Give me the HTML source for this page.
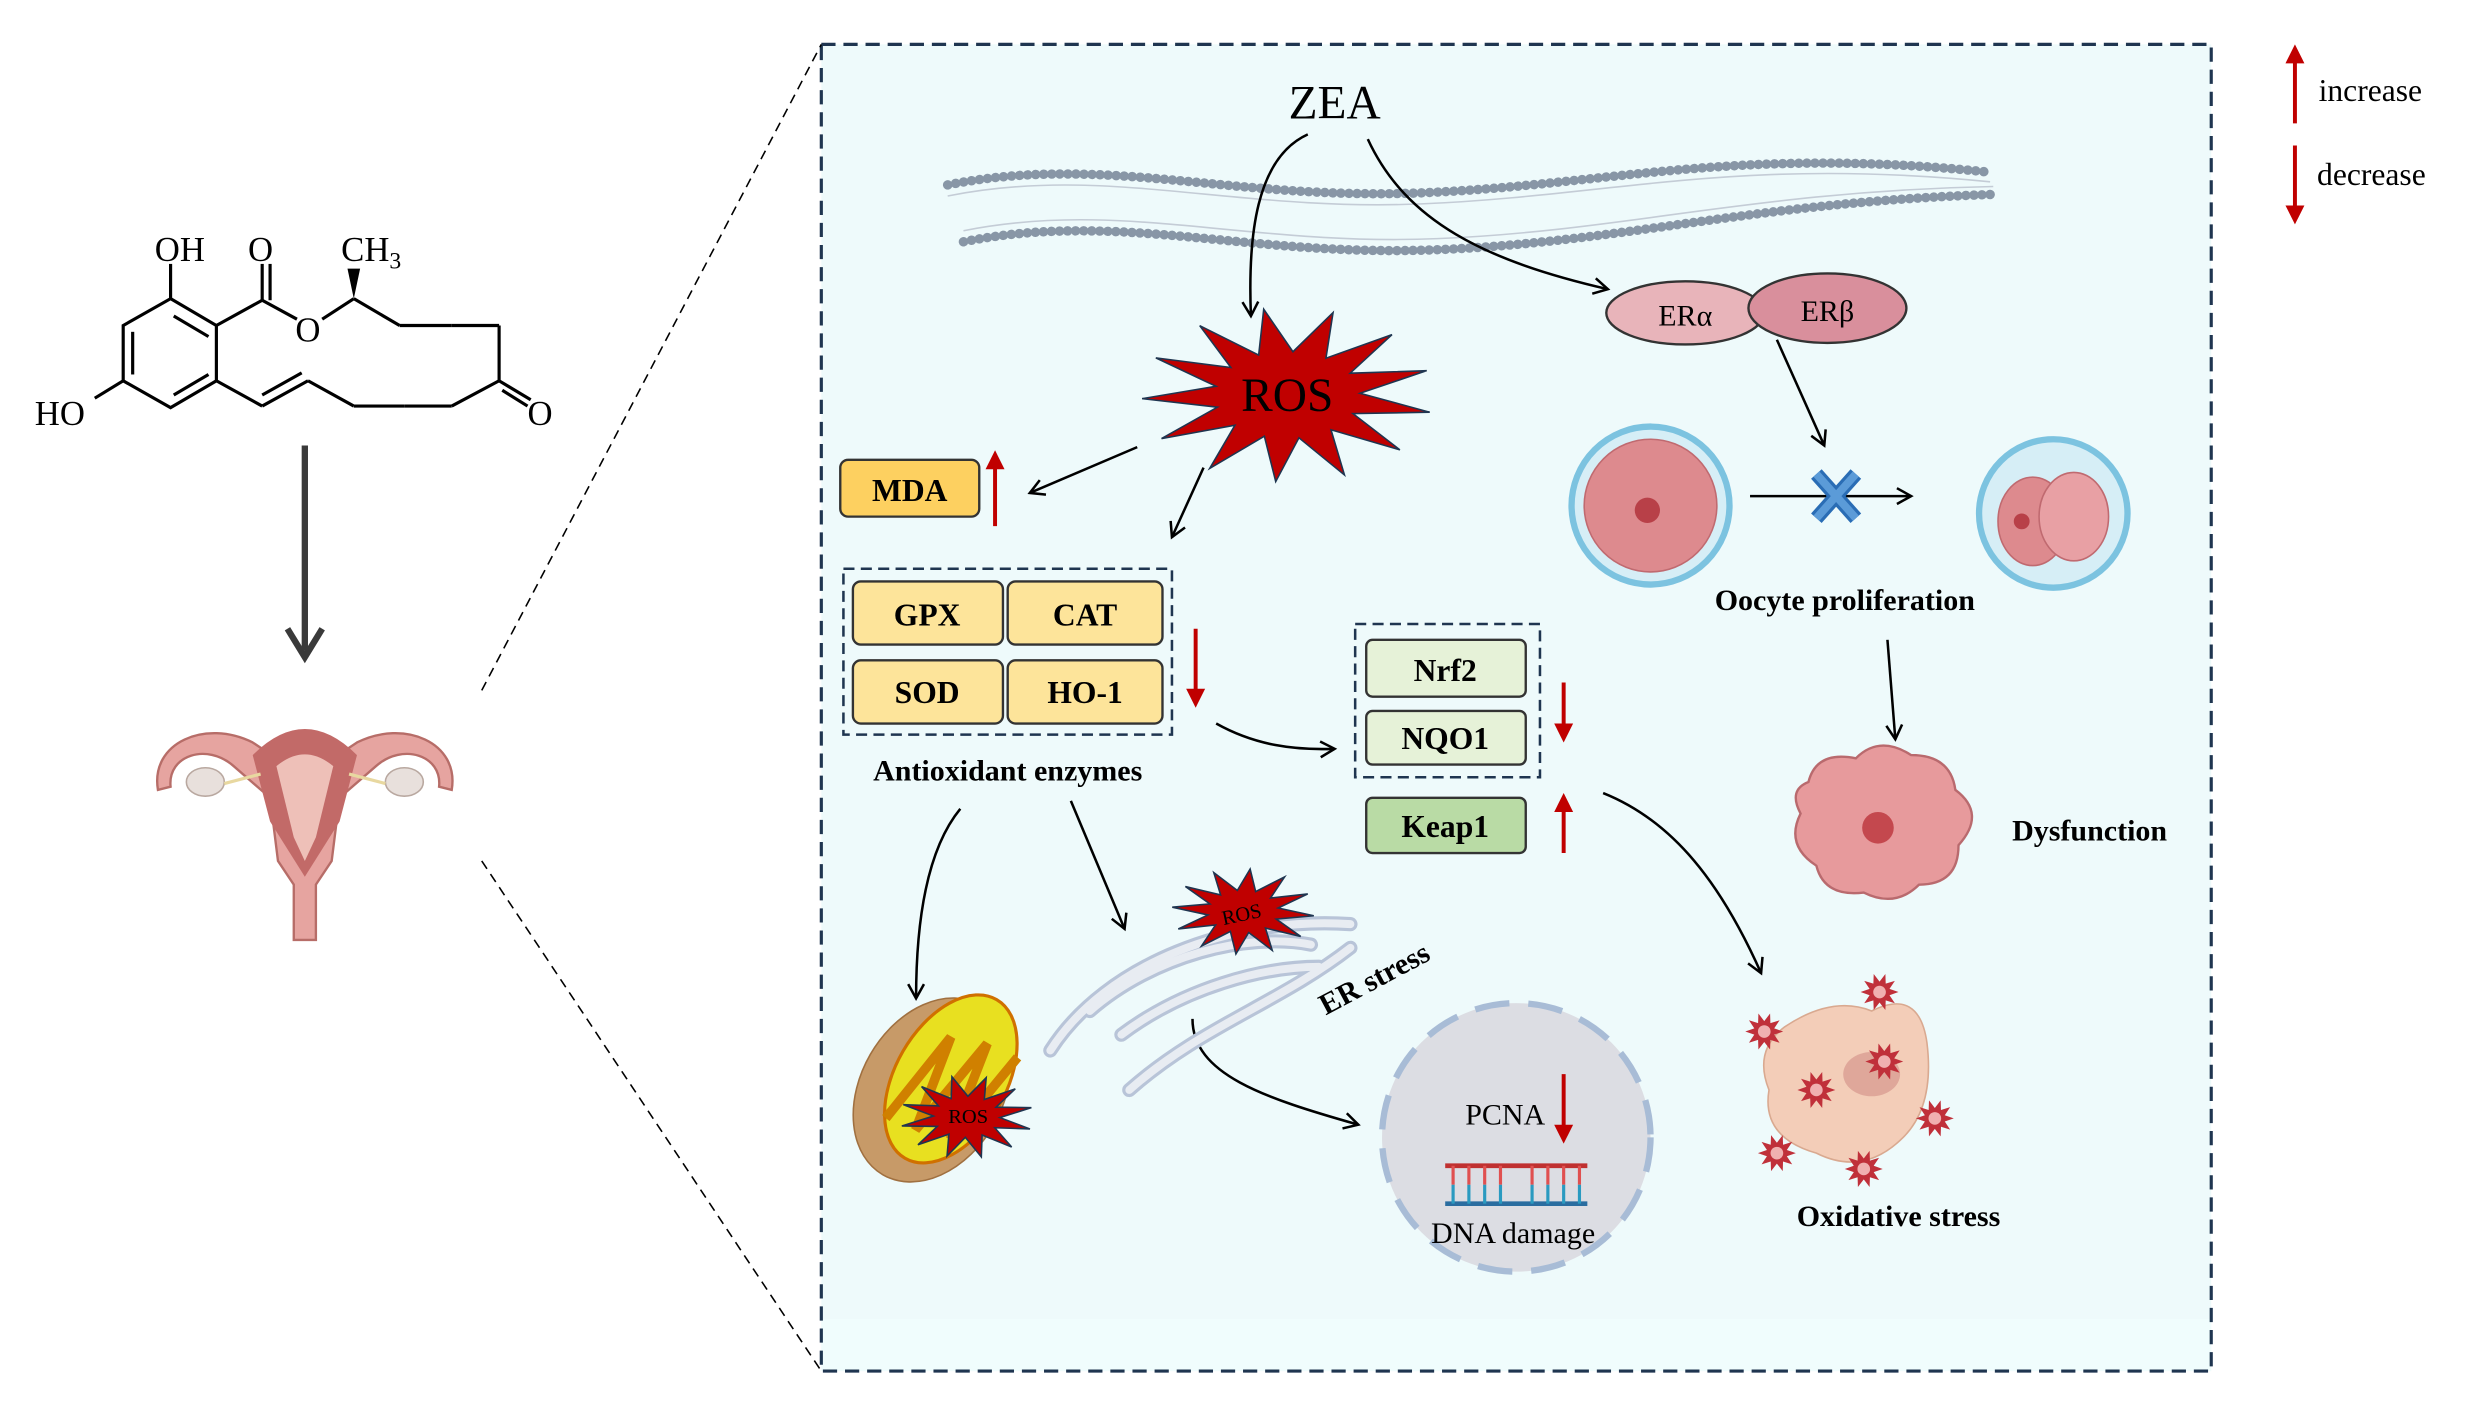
<!DOCTYPE html>
<html><head><meta charset="utf-8"><style>
html,body{margin:0;padding:0;background:#fff;}
svg{display:block;}
text{font-family:"Liberation Serif",serif;}
.b{font-weight:bold;}
</style></head><body>
<svg id="s" width="2475" height="1406" viewBox="0 0 1567 890" xmlns="http://www.w3.org/2000/svg">
<defs>
<marker id="ah" markerWidth="12" markerHeight="12" refX="10" refY="6" orient="auto" markerUnits="userSpaceOnUse">
<path d="M1,1 L10,6 L1,11" fill="none" stroke="#000" stroke-width="1.6"/></marker>
</defs>
<!-- frame -->
<rect x="520" y="28" width="880" height="840" fill="#eefafb"/>
<rect x="520" y="835" width="880" height="33" fill="#f0fdfd"/>
<rect x="520" y="28" width="880" height="840" fill="none" stroke="#1f3550" stroke-width="2" stroke-dasharray="9,5"/>
<line x1="305" y1="437" x2="520" y2="28" stroke="#000" stroke-width="1" stroke-dasharray="6,4"/>
<line x1="305" y1="545" x2="520" y2="868" stroke="#000" stroke-width="1" stroke-dasharray="6,4"/>
<!-- legend -->
<g fill="#c00000" stroke="#c00000">
<line x1="1453" y1="78" x2="1453" y2="38" stroke-width="2.5"/><polygon points="1447,40 1459,40 1453,28" stroke="none"/>
<line x1="1453" y1="92" x2="1453" y2="132" stroke-width="2.5"/><polygon points="1447,130 1459,130 1453,142" stroke="none"/>
<line x1="630" y1="333" x2="630" y2="295" stroke-width="2.5"/><polygon points="624,297 636,297 630,285" stroke="none"/>
<line x1="757" y1="398" x2="757" y2="438" stroke-width="2.5"/><polygon points="751,436 763,436 757,448" stroke="none"/>
<line x1="990" y1="432" x2="990" y2="460" stroke-width="2.5"/><polygon points="984,458 996,458 990,470" stroke="none"/>
<line x1="990" y1="540" x2="990" y2="512" stroke-width="2.5"/><polygon points="984,514 996,514 990,502" stroke="none"/>
</g>
<text x="1468" y="64" font-size="20">increase</text>
<text x="1467" y="117" font-size="20">decrease</text>
<!-- molecule -->
<g stroke="#000" stroke-width="2" fill="none">
<polygon points="108,189 137,206 137,241 108,258 78,241 78,206"/>
<line x1="132" y1="213" x2="110" y2="200"/><line x1="84" y1="210" x2="84" y2="237"/><line x1="110" y1="250" x2="132" y2="237"/>
<line x1="108" y1="189" x2="108" y2="167"/>
<line x1="78" y1="241" x2="60" y2="252"/>
<line x1="137" y1="206" x2="166" y2="190"/>
<line x1="166" y1="190" x2="166" y2="167"/><line x1="171" y1="190" x2="171" y2="167"/>
<line x1="166" y1="190" x2="188" y2="202"/>
<line x1="204" y1="202" x2="224" y2="189"/>
<line x1="137" y1="241" x2="166" y2="257"/>
<line x1="166" y1="257" x2="195" y2="241"/><line x1="166" y1="250" x2="191" y2="236"/>
<line x1="195" y1="241" x2="224" y2="257"/>
<line x1="224" y1="189" x2="253" y2="206"/><line x1="253" y1="206" x2="286" y2="206"/><line x1="286" y1="206" x2="316" y2="206"/>
<line x1="316" y1="206" x2="316" y2="241"/>
<line x1="224" y1="257" x2="256" y2="257"/><line x1="256" y1="257" x2="286" y2="257"/><line x1="286" y1="257" x2="316" y2="241"/>
<line x1="316" y1="241" x2="336" y2="253"/><line x1="318" y1="247" x2="334" y2="257"/>
</g>
<polygon points="224,189 220,170 228,170" fill="#000"/>
<g font-size="22" fill="#000">
<text x="98" y="165" font-family="Liberation Sans,sans-serif">OH</text>
<text x="157" y="165" font-family="Liberation Sans,sans-serif">O</text>
<text x="216" y="165" font-family="Liberation Sans,sans-serif">CH<tspan font-size="15" dy="5">3</tspan></text>
<text x="187" y="216" font-family="Liberation Sans,sans-serif">O</text>
<text x="22" y="269" font-family="Liberation Sans,sans-serif">HO</text>
<text x="334" y="269" font-family="Liberation Sans,sans-serif">O</text>
</g>
<line x1="193" y1="282" x2="193" y2="412" stroke="#3a3a3a" stroke-width="4"/>
<path d="M182,398 L193,416 L204,398" fill="none" stroke="#3a3a3a" stroke-width="4"/>
<!-- uterus -->
<g>
<path d="M100,500 C95,470 130,455 160,470 L175,480 L193,465 L211,480 L226,470 C256,455 291,470 286,500 L278,498 C280,478 255,470 238,485 L215,505 L210,545 L200,560 L200,595 L186,595 L186,560 L176,545 L171,505 L148,485 C131,470 106,478 108,498 Z" fill="#e6a4a0" stroke="#b76d68" stroke-width="1.5"/>
<path d="M160,478 Q193,445 226,478 L215,520 L193,555 L171,520 Z" fill="#c26a68"/>
<path d="M175,485 Q193,470 211,485 L200,530 L193,545 L186,530 Z" fill="#eec0b8"/>
<ellipse cx="130" cy="495" rx="12" ry="9" fill="#e8e0dc" stroke="#b9a8a0"/>
<ellipse cx="256" cy="495" rx="12" ry="9" fill="#e8e0dc" stroke="#b9a8a0"/>
<path d="M142,496 L165,490 M244,496 L221,490" stroke="#e8d8a0" stroke-width="2"/>
</g>
<!-- membrane -->
<g fill="none" stroke="#c4ccd6" stroke-width="1">
<path d="M600,124 C700,104 780,134 900,129 C1020,124 1100,99 1260,115"/>
<path d="M610,146 C710,126 790,156 910,151 C1030,146 1110,121 1262,118"/>
</g>
<g fill="none" stroke="#8896a6" stroke-width="6" stroke-dasharray="0.1,5" stroke-linecap="round">
<path d="M600,117 C700,97 780,127 900,122 C1020,117 1100,92 1260,109"/>
<path d="M610,153 C710,133 790,163 910,158 C1030,153 1110,128 1262,123"/>
</g>
<text x="845" y="75" font-size="30" text-anchor="middle">ZEA</text>
<!-- ROS star -->
<polygon id="st1" fill="#c00000" stroke="#1f3550" stroke-width="1"/>
<text x="815" y="260" font-size="30" text-anchor="middle">ROS</text>
<!-- arrows -->
<g fill="none" stroke="#000" stroke-width="1.6" marker-end="url(#ah)">
<path d="M828,85 C795,100 790,150 792,200"/>
<path d="M866,88 C890,140 940,165 1018,183"/>
<path d="M720,283 L652,312"/>
<path d="M762,296 L742,340"/>
<path d="M1125,215 L1155,282"/>
<path d="M770,458 C795,472 820,475 845,474"/>
<path d="M608,512 C585,540 580,590 580,632"/>
<path d="M678,507 L712,588"/>
<path d="M755,645 C755,680 800,695 860,712"/>
<path d="M1015,502 C1060,520 1090,560 1115,616"/>
<path d="M1195,405 L1200,468"/>
<path d="M1108,314 L1210,314"/>
</g>
<!-- MDA -->
<rect x="532" y="291" width="88" height="36" rx="5" fill="#fdd060" stroke="#333" stroke-width="1.5"/>
<text x="576" y="317" font-size="20" class="b" text-anchor="middle">MDA</text>
<!-- enzymes -->
<rect x="534" y="360" width="208" height="105" fill="none" stroke="#1f3550" stroke-width="1.6" stroke-dasharray="7,4"/>
<g fill="#fde49a" stroke="#333" stroke-width="1.5">
<rect x="540" y="368" width="95" height="40" rx="5"/><rect x="638" y="368" width="98" height="40" rx="5"/>
<rect x="540" y="418" width="95" height="40" rx="5"/><rect x="638" y="418" width="98" height="40" rx="5"/>
</g>
<g font-size="20" class="b" text-anchor="middle">
<text x="587" y="396">GPX</text><text x="687" y="396">CAT</text>
<text x="587" y="445">SOD</text><text x="687" y="445">HO-1</text>
</g>
<text x="638" y="494" font-size="19" class="b" text-anchor="middle">Antioxidant enzymes</text>
<!-- Nrf2 -->
<rect x="858" y="395" width="117" height="97" fill="none" stroke="#1f3550" stroke-width="1.6" stroke-dasharray="7,4"/>
<rect x="865" y="405" width="101" height="36" rx="4" fill="#e6f2d8" stroke="#333" stroke-width="1.5"/>
<rect x="865" y="450" width="101" height="34" rx="4" fill="#e6f2d8" stroke="#333" stroke-width="1.5"/>
<rect x="865" y="505" width="101" height="35" rx="4" fill="#b9dba5" stroke="#333" stroke-width="1.5"/>
<g font-size="20" class="b" text-anchor="middle">
<text x="915" y="431">Nrf2</text><text x="915" y="474">NQO1</text><text x="915" y="530">Keap1</text>
</g>
<!-- ER -->
<ellipse cx="1067" cy="198" rx="50" ry="20" fill="#e8b4ba" stroke="#333" stroke-width="1.5"/>
<ellipse cx="1157" cy="195" rx="50" ry="22" fill="#d98f9c" stroke="#333" stroke-width="1.5"/>
<text x="1067" y="206" font-size="19" text-anchor="middle">ERα</text>
<text x="1157" y="203" font-size="19" text-anchor="middle">ERβ</text>
<!-- oocytes -->
<circle cx="1045" cy="320" r="50" fill="#d6eef6" stroke="#7cc3e0" stroke-width="4"/>
<circle cx="1045" cy="320" r="42" fill="#dd8a8e" stroke="#c06a70"/>
<circle cx="1043" cy="323" r="8" fill="#b84048"/>
<circle cx="1300" cy="325" r="47" fill="#d6eef6" stroke="#7cc3e0" stroke-width="4"/>
<ellipse cx="1287" cy="330" rx="22" ry="28" fill="#dd8a8e" stroke="#c06a70"/>
<ellipse cx="1313" cy="327" rx="22" ry="28" fill="#e8a0a4" stroke="#c06a70"/>
<circle cx="1280" cy="330" r="5" fill="#b84048"/>
<path d="M1150,300 L1175,328 M1175,300 L1150,328" stroke="#2a6db5" stroke-width="9"/>
<path d="M1150,300 L1175,328 M1175,300 L1150,328" stroke="#5b9bd8" stroke-width="5"/>
<text x="1168" y="386" font-size="19" class="b" text-anchor="middle">Oocyte proliferation</text>
<!-- dysfunction -->
<path d="M1145,495 Q1150,475 1175,480 Q1190,465 1210,478 Q1235,478 1238,500 Q1258,515 1240,535 Q1240,560 1215,560 Q1200,575 1180,565 Q1155,568 1150,548 Q1130,535 1140,515 Q1132,500 1145,495 Z" fill="#e79a9c" stroke="#b96a6e" stroke-width="1.5"/>
<circle cx="1189" cy="524" r="10" fill="#c4484e"/>
<text x="1323" y="532" font-size="19" class="b" text-anchor="middle">Dysfunction</text>
<!-- oxidative cell -->
<path d="M1130,650 Q1160,630 1185,640 Q1215,625 1220,660 Q1225,700 1205,720 Q1180,745 1150,730 Q1115,720 1120,690 Q1110,665 1130,650 Z" fill="#f3cdb8" stroke="#d9a990"/>
<ellipse cx="1185" cy="680" rx="18" ry="14" fill="#dfa79a"/>
<g id="minis"></g>
<text x="1202" y="776" font-size="19" class="b" text-anchor="middle">Oxidative stress</text>
<!-- ER organelle -->
<g fill="none" stroke="#b8c4d8" stroke-width="9" stroke-linecap="round">
<path d="M665,665 C700,610 780,580 855,585"/>
<path d="M690,640 C730,605 790,590 830,598"/>
<path d="M710,655 C750,625 800,612 835,612"/>
<path d="M715,690 C760,650 810,635 855,600"/>
</g>
<g fill="none" stroke="#e8ecf2" stroke-width="5" stroke-linecap="round">
<path d="M665,665 C700,610 780,580 855,585"/>
<path d="M690,640 C730,605 790,590 830,598"/>
<path d="M710,655 C750,625 800,612 835,612"/>
<path d="M715,690 C760,650 810,635 855,600"/>
</g>
<polygon id="st2" fill="#c00000" stroke="#1f3550" stroke-width="1"/>
<text x="787" y="583" font-size="13" text-anchor="middle" transform="rotate(-12 787 583)">ROS</text>
<text x="873" y="625" font-size="19" class="b" text-anchor="middle" transform="rotate(-28 873 625)">ER stress</text>
<!-- mitochondria -->
<ellipse cx="590" cy="690" rx="45" ry="62" transform="rotate(30 590 690)" fill="#c79a68" stroke="#a07040"/>
<ellipse cx="602" cy="683" rx="35" ry="58" transform="rotate(30 602 683)" fill="#e8e020" stroke="#d07000" stroke-width="2"/>
<path d="M575,725 L585,660 L595,722 L607,652 L617,716 L628,650" fill="none" stroke="#d08000" stroke-width="6" transform="rotate(30 600 690)"/>
<polygon id="st3" fill="#c00000" stroke="#1f3550" stroke-width="1"/>
<text x="613" y="711" font-size="13" text-anchor="middle">ROS</text>
<!-- nucleus -->
<circle cx="960" cy="720" r="85" fill="#dcdde3"/>
<circle cx="960" cy="720" r="85" fill="none" stroke="#a8bcd6" stroke-width="4" stroke-dasharray="22,12"/>
<text x="953" y="712" font-size="19" text-anchor="middle">PCNA</text>
<line x1="990" y1="680" x2="990" y2="714" stroke="#c00000" stroke-width="2.5"/>
<polygon points="984,712 996,712 990,724" fill="#c00000"/>
<line x1="915" y1="738" x2="1005" y2="738" stroke="#c03030" stroke-width="3"/>
<line x1="915" y1="762" x2="1005" y2="762" stroke="#2a6da0" stroke-width="3"/>
<g id="dna" stroke-width="2"></g>
<text x="958" y="787" font-size="19" text-anchor="middle">DNA damage</text>
</svg>
<script>
function star(id,cx,cy,rx,ry,n,k,rot){var p=[];for(var i=0;i<2*n;i++){var a=(i*Math.PI/n)+(rot||0);var r=i%2?k:1;p.push((cx+Math.cos(a)*rx*r).toFixed(1)+","+(cy+Math.sin(a)*ry*r).toFixed(1));}document.getElementById(id).setAttribute("points",p.join(" "));}
star("st1",815,250,92,55,13,0.5,0.2);
star("st2",787,577,45,27,12,0.5,0.1);
star("st3",612,707,42,26,12,0.5,0.3);
var m=document.getElementById("minis"),ns="http://www.w3.org/2000/svg";
[[1190,628],[1117,653],[1193,672],[1150,690],[1225,708],[1125,730],[1180,740]].forEach(function(c,j){var e=document.createElementNS(ns,"polygon");e.setAttribute("id","mm"+j);e.setAttribute("fill","#c0303a");m.appendChild(e);star("mm"+j,c[0],c[1],12,12,10,0.55,0);var d=document.createElementNS(ns,"circle");d.setAttribute("cx",c[0]);d.setAttribute("cy",c[1]);d.setAttribute("r",4);d.setAttribute("fill","#f0b0b0");m.appendChild(d);});
var g=document.getElementById("dna");for(var x=920;x<=1000;x+=10){if(x>950&&x<965)continue;var l=document.createElementNS(ns,"line");l.setAttribute("x1",x);l.setAttribute("x2",x);l.setAttribute("y1",738);l.setAttribute("y2",750);l.setAttribute("stroke","#e05050");g.appendChild(l);var l2=document.createElementNS(ns,"line");l2.setAttribute("x1",x);l2.setAttribute("x2",x);l2.setAttribute("y1",750);l2.setAttribute("y2",762);l2.setAttribute("stroke","#2a9ac0");g.appendChild(l2);}
</script>
</body></html>
